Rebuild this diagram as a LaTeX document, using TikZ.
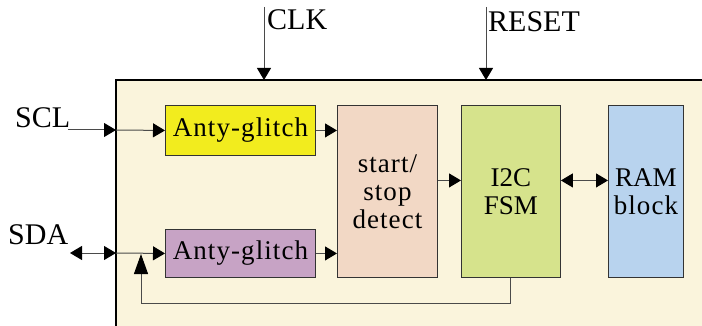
\documentclass[tikz,border=0pt]{standalone}
\usepackage{fontspec}
\setmainfont{Liberation Serif}
\newfontfamily\spacedserif[LetterSpace=4]{Liberation Serif}
\usetikzlibrary{arrows.meta,calc}

\definecolor{chipbg}{HTML}{FAF4DC}
\definecolor{glitchA}{HTML}{F2EC1E}
\definecolor{glitchB}{HTML}{C7A3C5}
\definecolor{detbg}{HTML}{F2D8C5}
\definecolor{fsmbg}{HTML}{D6E38C}
\definecolor{rambg}{HTML}{B8D3EE}
\definecolor{wire}{HTML}{4A4A4A}
\definecolor{edge}{HTML}{333333}

\tikzset{
  blk/.style={draw=edge, line width=0.9pt, anchor=north west, inner sep=0pt,
    align=center, font=\fontsize{27}{28}\selectfont},
  lbl/.style={inner sep=0pt, font=\fontsize{30}{36}\selectfont},
  arr/.style={draw=wire, line width=1pt, -{Triangle[length=12pt,width=14pt,color=black]}},
  darr/.style={draw=wire, line width=1pt, {Triangle[length=12pt,width=14pt,color=black]}-{Triangle[length=12pt,width=14pt,color=black]}},
  fbarr/.style={draw=wire, line width=1pt, -{Triangle[length=20pt,width=14pt,color=black]}},
}

\begin{document}
\begin{tikzpicture}[x=1pt,y=-1pt]
\useasboundingbox (0,0) rectangle (702,326);

% chip area
\fill[chipbg] (116,80) rectangle (702,326);
\draw[black, line width=1.2pt] (116,326) -- (116,80) -- (702,80);

% functional blocks
\node[blk, fill=glitchA, minimum width=150pt, minimum height=50pt] (ag1) at (165,105) {\spacedserif Anty-glitch};
\node[blk, fill=glitchB, minimum width=150pt, minimum height=48pt] (ag2) at (165,229) {\spacedserif Anty-glitch};
\node[blk, fill=detbg, minimum width=100pt, minimum height=172pt] (ss) at (337,105) {\spacedserif start/\\\spacedserif stop\\\spacedserif detect};
\node[blk, fill=fsmbg, minimum width=99pt, minimum height=172pt] (fsm) at (461,105) {I2C\\FSM};
\node[blk, fill=rambg, minimum width=75pt, minimum height=172pt] (ram) at (608,105) {RAM\\\spacedserif block};

% external signal labels
\node[lbl, anchor=base west] (scl) at (15,128) {SCL};
\node[lbl, anchor=base west] (sda) at (8,244) {SDA};
\node[lbl, anchor=base west] (clk) at (267,30) {CLK};
\node[lbl, anchor=base west] (rst) at (488,32) {RESET};

% pin coordinates
\coordinate (clktop) at (264,7);
\coordinate (clkpin) at (264,80);
\coordinate (rsttop) at (486,7);
\coordinate (rstpin) at (486,80);
\coordinate (sclext) at (68,130);
\coordinate (sclpin) at (116,130);
\coordinate (sdaext) at (70,253);
\coordinate (sdapin) at (116,253);
\coordinate (fbtip) at (141,254);

% clock and reset
\draw[arr] (clktop) -- (clkpin);
\draw[arr] (rsttop) -- (rstpin);

% SCL path
\draw[arr] (sclext) -- (sclpin);
\draw[arr] (sclpin) -- (ag1.west);

% SDA path
\draw[darr] (sdaext) -- (sdapin);
\draw[arr] (sdapin) -- (ag2.west);

% block interconnect
\draw[arr] (ag1.east) -- (ag1.east -| ss.west);
\draw[arr] (ag2.east) -- (ag2.east -| ss.west);
\draw[arr] ([yshift=11pt]ss.east) -- ([yshift=11pt]fsm.west);
\draw[darr] ([yshift=11pt]fsm.east) -- ([yshift=11pt]ram.west);

% SDA drive back from the FSM
\draw[fbarr] (fsm.south) -- ++(0,26) -| (fbtip);
\end{tikzpicture}
\end{document}
